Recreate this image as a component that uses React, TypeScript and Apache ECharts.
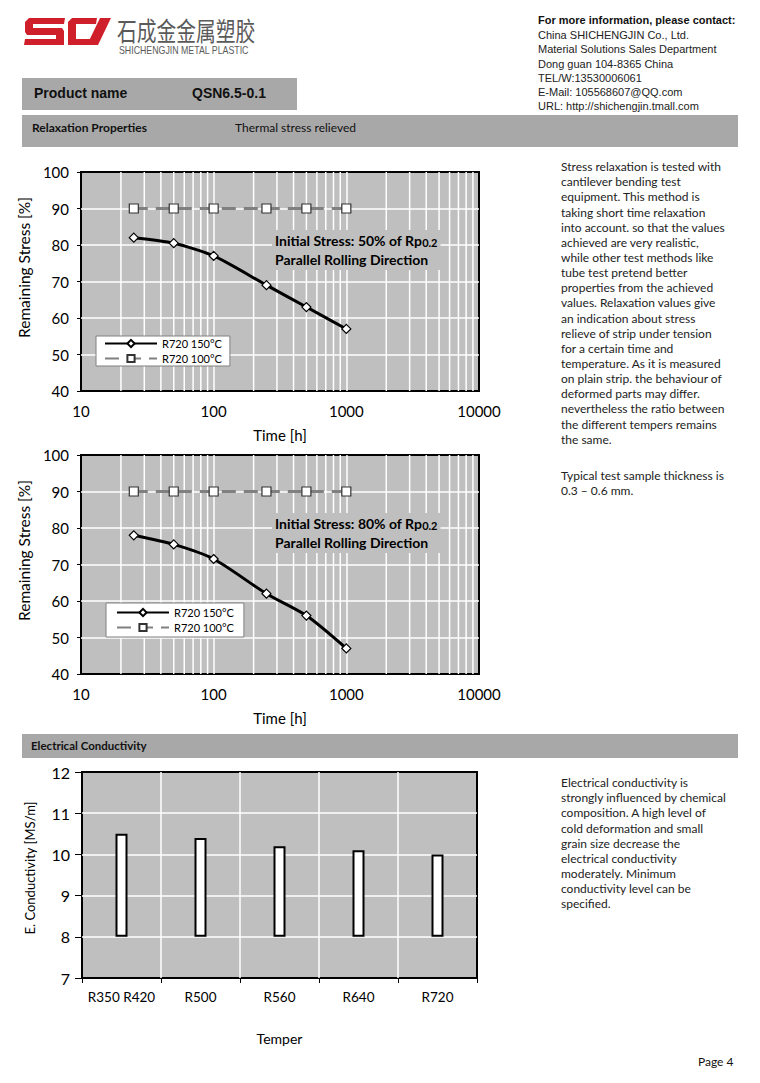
import React, { useEffect, useRef } from 'react';
import * as echarts from 'echarts';

// ---------- data ----------
const hours = [25, 50, 100, 250, 500, 1000];
const stress50At150 = [82, 80.5, 77, 69, 63, 57];
const stress50At100 = [90, 90, 90, 90, 90, 90];
const stress80At150 = [78, 75.5, 71.5, 62, 56, 47];
const stress80At100 = [90, 90, 90, 90, 90, 90];
const logMinorTicks = [20, 30, 40, 50, 60, 70, 80, 90, 200, 300, 400, 500, 600, 700, 800, 900, 2000, 3000, 4000, 5000, 6000, 7000, 8000, 9000];
const seriesNames = ['R720 150°C', 'R720 100°C'];

const tempers = ['R350 R420', 'R500', 'R560', 'R640', 'R720'];
const conductivity = [10.5, 10.4, 10.2, 10.1, 10.0];
const conductivityBase = 8;

const contactLines = [
  'China SHICHENGJIN Co., Ltd.',
  'Material Solutions Sales Department',
  'Dong guan 104-8365 China',
  'TEL/W:13530006061',
  'E-Mail: 105568607@QQ.com',
  'URL: http://shichengjin.tmall.com',
];
const relaxText = [
  'Stress relaxation is tested with',
  'cantilever bending test',
  'equipment. This method is',
  'taking short time relaxation',
  'into account. so that the values',
  'achieved are very realistic,',
  'while other test methods like',
  'tube test pretend better',
  'properties from the achieved',
  'values. Relaxation values give',
  'an indication about stress',
  'relieve of strip under tension',
  'for a certain time and',
  'temperature. As it is measured',
  'on plain strip. the behaviour of',
  'deformed parts may differ.',
  'nevertheless the ratio between',
  'the different tempers remains',
  'the same.',
];
const thicknessText = ['Typical test sample thickness is', '0.3 – 0.6 mm.'];
const conductText = [
  'Electrical conductivity is',
  'strongly influenced by chemical',
  'composition. A high level of',
  'cold deformation and small',
  'grain size decrease the',
  'electrical conductivity',
  'moderately. Minimum',
  'conductivity level can be',
  'specified.',
];

const CAL = 'Lato, "Noto Sans", sans-serif';
const ARIAL = '"Liberation Sans", Arial, sans-serif';
const PLOT_BG = '#bfbfbf';
const BAR_BG = '#a8a8a8';
const RED = '#cf1f2b';

function stressAxes(gridIndex: number) {
  const x = {
    type: 'log', logBase: 10, min: 10, max: 10000, gridIndex,
    axisLine: { show: false }, axisTick: { show: false },
    axisLabel: { fontSize: 15, color: '#000', margin: 12, fontFamily: CAL, formatter: (v: number) => String(v) },
    splitLine: { show: true, showMinLine: false, showMaxLine: false, lineStyle: { color: '#fff', width: 1.5 } },
    name: 'Time [h]', nameLocation: 'middle', nameGap: 36,
    nameTextStyle: { fontSize: 15, color: '#000', fontFamily: CAL },
  };
  const y = {
    type: 'value', min: 40, max: 100, interval: 10, gridIndex,
    axisLine: { show: false },
    axisTick: { show: true, length: 4, lineStyle: { color: '#000' } },
    axisLabel: { fontSize: 15, color: '#000', margin: 12, fontFamily: CAL },
    splitLine: { show: true, showMinLine: false, showMaxLine: false, lineStyle: { color: '#fff', width: 1.5 } },
    name: 'Remaining Stress [%]', nameLocation: 'middle', nameGap: 36, nameRotate: 90,
    nameTextStyle: { fontSize: 15.5, color: '#000', fontFamily: CAL, padding: [0, 0, 0, 28] },
  };
  return { x, y };
}

function minorGridSeries(idx: number) {
  return {
    type: 'custom', xAxisIndex: idx, yAxisIndex: idx, silent: true, z: 1,
    data: logMinorTicks.map((v) => [v, 40]),
    renderItem: (_p: any, api: any) => {
      const v = api.value(0);
      const a = api.coord([v, 40]);
      const b = api.coord([v, 100]);
      return { type: 'line', shape: { x1: a[0], y1: a[1], x2: b[0], y2: b[1] }, style: { stroke: '#fff', lineWidth: 1.5 } };
    },
  };
}

function stressSeries(idx: number, hot: number[], warm: number[]) {
  return [
    {
      name: seriesNames[0], type: 'line', xAxisIndex: idx, yAxisIndex: idx, z: 5,
      data: hours.map((h, i) => [h, hot[i]]), smooth: 0.25,
      lineStyle: { color: '#000', width: 3 },
      symbol: 'diamond', symbolSize: 9, showAllSymbol: true,
      itemStyle: { color: '#fff', borderColor: '#000', borderWidth: 1.2 },
    },
    {
      name: seriesNames[1], type: 'line', xAxisIndex: idx, yAxisIndex: idx, z: 4,
      data: hours.map((h, i) => [h, warm[i]]),
      lineStyle: { color: '#808080', width: 3, type: [14, 8] },
      symbol: 'rect', symbolSize: 9,
      itemStyle: { color: '#fff', borderColor: '#333', borderWidth: 1.2 },
    },
  ];
}

function legendAt(left: number, top: number, pad: number[]) {
  return {
    data: seriesNames, left, top, orient: 'vertical',
    backgroundColor: '#fff', borderColor: '#808080', borderWidth: 1,
    padding: pad, itemGap: 4, itemWidth: 52, itemHeight: 9,
    textStyle: { fontSize: 11, color: '#000', fontFamily: CAL },
    selectedMode: false,
  };
}

function annotation(top: number, pct: string) {
  return {
    type: 'text', left: 272, top, z: 100,
    style: {
      text: `{b|Initial Stress: ${pct} of Rp}{s|0.2}\n{b|Parallel Rolling Direction}`,
      backgroundColor: PLOT_BG, padding: [1, 3],
      rich: {
        b: { fontSize: 14, fontWeight: 'bold', fontFamily: CAL, fill: '#000', lineHeight: 19 },
        s: { fontSize: 11, fontWeight: 'bold', fontFamily: CAL, fill: '#000', lineHeight: 19, verticalAlign: 'middle', padding: [3, 0, 0, 0] },
      },
    },
  };
}

function paragraph(lines: string[], x: number, y: number) {
  return {
    type: 'text', left: x, top: y, z: 10,
    style: { text: lines.join('\n'), fontSize: 12, fontFamily: CAL, fill: '#222', lineHeight: 15.15 },
  };
}

export default function App() {
  const ref = useRef<HTMLDivElement>(null);
  useEffect(() => {
    if (!ref.current) return;
    const chart = echarts.init(ref.current, undefined, { renderer: 'svg' });
    const a0 = stressAxes(0);
    const a1 = stressAxes(1);

    const option: any = {
      animation: false,
      backgroundColor: '#fff',
      grid: [
        { left: 81, top: 172, width: 398, height: 219, show: true, backgroundColor: PLOT_BG, borderColor: '#000', borderWidth: 2 },
        { left: 81, top: 455, width: 398, height: 219, show: true, backgroundColor: PLOT_BG, borderColor: '#000', borderWidth: 2 },
        { left: 82, top: 772, width: 395, height: 206, show: true, backgroundColor: PLOT_BG, borderColor: '#000', borderWidth: 2 },
      ],
      xAxis: [
        a0.x, a1.x,
        {
          type: 'category', data: tempers, gridIndex: 2,
          axisLine: { show: false },
          axisTick: { show: true, interval: 0, alignWithLabel: false, length: 5, lineStyle: { color: '#000' } },
          axisLabel: { fontSize: 13.5, color: '#000', margin: 12, fontFamily: CAL, interval: 0 },
          splitLine: { show: true, interval: 0, showMinLine: false, showMaxLine: false, lineStyle: { color: '#fff', width: 1.5 } },
          name: 'Temper', nameLocation: 'middle', nameGap: 53,
          nameTextStyle: { fontSize: 14, color: '#000', fontFamily: CAL },
        },
      ],
      yAxis: [
        a0.y, a1.y,
        {
          type: 'value', min: 7, max: 12, interval: 1, gridIndex: 2,
          axisLine: { show: false },
          axisTick: { show: true, length: 7, lineStyle: { color: '#000' } },
          axisLabel: { fontSize: 16, color: '#000', margin: 12, fontFamily: CAL },
          splitLine: { show: true, showMinLine: false, showMaxLine: false, lineStyle: { color: '#fff', width: 1.5 } },
          name: 'E. Conductivity [MS/m]', nameLocation: 'middle', nameGap: 46, nameRotate: 90,
          nameTextStyle: { fontSize: 13, color: '#000', fontFamily: CAL, padding: [0, 0, 0, 14] },
        },
      ],
      legend: [legendAt(96, 336, [2, 8, 2, 8]), legendAt(106, 603, [4, 10, 4, 10])],
      series: [
        minorGridSeries(0),
        minorGridSeries(1),
        ...stressSeries(0, stress50At150, stress50At100),
        ...stressSeries(1, stress80At150, stress80At100),
        {
          name: 'base', type: 'bar', stack: 'ec', xAxisIndex: 2, yAxisIndex: 2, silent: true, barWidth: 12,
          data: conductivity.map(() => conductivityBase),
          itemStyle: { color: 'rgba(0,0,0,0)' },
        },
        {
          name: 'E. Conductivity', type: 'bar', stack: 'ec', xAxisIndex: 2, yAxisIndex: 2, barWidth: 12, z: 5,
          data: conductivity.map((v) => +(v - conductivityBase).toFixed(2)),
          itemStyle: { color: '#fff', borderColor: '#000', borderWidth: 2 },
        },
      ],
      graphic: [
        // logo "SC/"
        { type: 'polygon', z: 10, shape: { points: [[29, 18], [65, 18], [64, 24], [33, 24], [33, 28], [62, 28], [64, 31], [64, 45], [24, 45], [25, 39], [56, 39], [56, 35], [27, 35], [25, 32], [25, 22]] }, style: { fill: RED } },
        { type: 'polygon', z: 10, shape: { points: [[72, 18], [97, 18], [96, 24], [76, 24], [76, 39], [93, 39], [92, 45], [68, 45], [68, 22]] }, style: { fill: RED } },
        { type: 'polygon', z: 10, shape: { points: [[100, 18], [111, 18], [98, 45], [87, 45]] }, style: { fill: RED } },
        { type: 'text', z: 10, x: 117, y: 17, scaleX: 0.76, style: { text: '石成金金属塑胶', fontSize: 26, fontFamily: '"Noto Sans CJK SC", sans-serif', fill: '#5a5a5a' } },
        { type: 'text', z: 10, x: 119, y: 45, scaleX: 0.8, style: { text: 'SHICHENGJIN METAL PLASTIC', fontSize: 11, fontFamily: ARIAL, fill: '#5a5a5a' } },
        // product name box
        { type: 'rect', z: 5, shape: { x: 22, y: 78, width: 275, height: 32 }, style: { fill: BAR_BG } },
        { type: 'text', z: 10, left: 34, top: 86, style: { text: 'Product name', fontSize: 14, fontWeight: 'bold', fontFamily: ARIAL, fill: '#111' } },
        { type: 'text', z: 10, left: 192, top: 86, style: { text: 'QSN6.5-0.1', fontSize: 14, fontWeight: 'bold', fontFamily: ARIAL, fill: '#111' } },
        // contact
        { type: 'text', z: 10, left: 538, top: 14, style: { text: 'For more information, please contact:', fontSize: 11, fontWeight: 'bold', fontFamily: ARIAL, fill: '#111' } },
        { type: 'text', z: 10, left: 538, top: 28, style: { text: contactLines.join('\n'), fontSize: 11, fontFamily: ARIAL, fill: '#222', lineHeight: 14.2 } },
        // section bars
        { type: 'rect', z: 5, shape: { x: 22, y: 115, width: 716, height: 32 }, style: { fill: BAR_BG } },
        { type: 'text', z: 10, left: 32, top: 121, style: { text: 'Relaxation Properties', fontSize: 12, fontWeight: 'bold', fontFamily: CAL, fill: '#111' } },
        { type: 'text', z: 10, left: 235, top: 121, style: { text: 'Thermal stress relieved', fontSize: 12, fontFamily: CAL, fill: '#111' } },
        { type: 'rect', z: 5, shape: { x: 22, y: 734, width: 716, height: 24 }, style: { fill: BAR_BG } },
        { type: 'text', z: 10, left: 31, top: 739, style: { text: 'Electrical Conductivity', fontSize: 11.5, fontWeight: 'bold', fontFamily: CAL, fill: '#111' } },
        // annotations
        annotation(230, '50%'),
        annotation(513, '80%'),
        // side texts
        paragraph(relaxText, 561, 159),
        paragraph(thicknessText, 561, 468),
        paragraph(conductText, 561, 775),
        { type: 'text', z: 10, left: 698, top: 1055, style: { text: 'Page 4', fontSize: 12, fontFamily: CAL, fill: '#111' } },
      ],
    };
    chart.setOption(option);
    return () => chart.dispose();
  }, []);
  return <div ref={ref} style={{ position: 'absolute', left: 0, top: 0, width: 760, height: 1083 }} />;
}
